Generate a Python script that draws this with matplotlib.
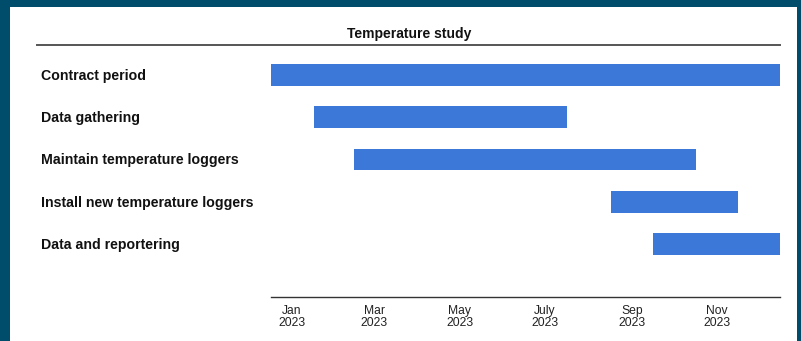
import matplotlib
matplotlib.use("Agg")
import matplotlib.pyplot as plt
import matplotlib.dates as mdates
import matplotlib.transforms as mtransforms
from datetime import date

# Project schedule
title = "Temperature study"
tasks = [
    "Contract period",
    "Data gathering",
    "Maintain temperature loggers",
    "Install new temperature loggers",
    "Data and reportering",
]
starts = ["2023-01-01", "2023-02-01", "2023-03-01", "2023-09-01", "2023-10-01"]
ends = ["2023-12-31", "2023-08-01", "2023-11-01", "2023-12-01", "2023-12-31"]
tick_dates = ["2023-01-16", "2023-03-16", "2023-05-16", "2023-07-16", "2023-09-16", "2023-11-16"]
tick_labels = ["Jan\n2023", "Mar\n2023", "May\n2023", "July\n2023", "Sep\n2023", "Nov\n2023"]

BAR_COLOR = "#3c78d8"
FRAME_COLOR = "#004d6b"

plt.rcParams["font.family"] = ["Liberation Sans", "DejaVu Sans"]

W, H = 801, 341
fig = plt.figure(figsize=(W / 100, H / 100), dpi=100)
fig.patch.set_facecolor(FRAME_COLOR)

# White panel inside the coloured frame
panel = fig.add_axes([10 / W, 0, (797 - 10) / W, (H - 7) / H], zorder=-1)
panel.set_axis_off()
panel.add_patch(plt.Rectangle((0, 0), 1, 1, transform=panel.transAxes,
                              facecolor="white", edgecolor="none"))

x0, x1 = 271, 780
y_top, y_bot = 50, 297
ax = fig.add_axes([x0 / W, 1 - y_bot / H, (x1 - x0) / W, (y_bot - y_top) / H], zorder=1)
ax.set_facecolor("none")

d = lambda s: mdates.date2num(date.fromisoformat(s))
for i, (s, e) in enumerate(zip(starts, ends)):
    ax.barh(i, d(e) - d(s), left=d(s), height=0.52, color=BAR_COLOR, zorder=2)

row_px = 42.25
ax.set_ylim((y_bot - 75) / row_px, (y_top - 75) / row_px)
ax.set_xlim(d("2023-01-01"), d("2023-12-31"))
ax.set_yticks([])
ax.set_xticks([d(t) for t in tick_dates])
ax.set_xticklabels(tick_labels, fontsize=8.7, color="#222222", linespacing=1.0)
ax.tick_params(axis="x", length=0, pad=6)
for side in ["top", "right", "left"]:
    ax.spines[side].set_visible(False)
ax.spines["bottom"].set_color("#333333")
ax.spines["bottom"].set_linewidth(1.0)

# Task labels on the left
trans = mtransforms.blended_transform_factory(fig.transFigure, ax.transData)
for i, name in enumerate(tasks):
    ax.text(41 / W, i + 0.02, name, transform=trans, ha="left", va="center",
            fontsize=10.15, fontweight="bold", color="#111111", clip_on=False)

# Title with rule beneath
fig.text(409 / W, 1 - 34 / H, title, ha="center", va="center",
         fontsize=10, fontweight="bold", color="#111111")
fig.add_artist(plt.Line2D([37 / W, 780 / W], [1 - 44.5 / H] * 2,
                          transform=fig.transFigure, color="#555555", lw=1.4))

fig.savefig("out.png", dpi=100, facecolor=fig.get_facecolor())
